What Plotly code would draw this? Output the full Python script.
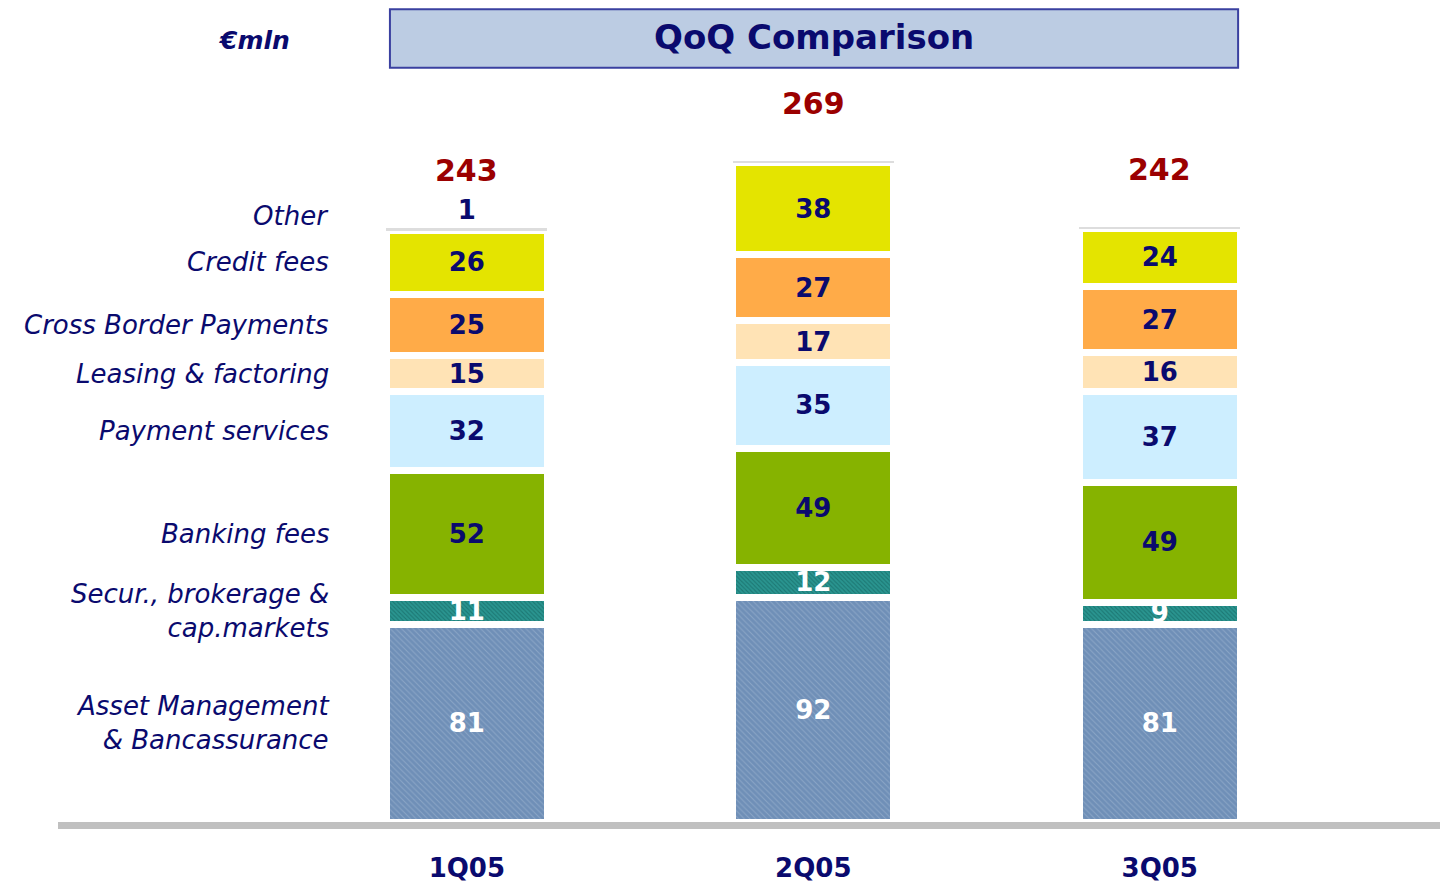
import plotly.graph_objects as go

# ---- data ----
quarters = ["1Q05", "2Q05", "3Q05"]
series_names = [
    "Asset Management<br>& Bancassurance",
    "Secur., brokerage &<br>cap.markets",
    "Banking fees",
    "Payment services",
    "Leasing & factoring",
    "Cross Border Payments",
    "Credit fees",
    "Other",
]
asset_mgmt = [81, 92, 81]
securities = [11, 12, 9]
banking_fees = [52, 49, 49]
payment_services = [32, 35, 37]
leasing_factoring = [15, 17, 16]
cross_border = [25, 27, 27]
credit_fees = [26, 38, 24]
other = [1, 0.5, 0.5]
other_labels = ["1", "", ""]
totals = [243, 269, 242]

series_values = [asset_mgmt, securities, banking_fees, payment_services,
                 leasing_factoring, cross_border, credit_fees, other]

# ---- styling ----
NAVY = "#0A0A6E"
FONT = "DejaVu Sans"
PX_PER_UNIT = 2.45
PLOT_H = 816
colors = ["#6F8FB7", "#238C87", "#86B300", "#CDEEFF", "#FFE3B5", "#FFAB48", "#E4E400", "#DDDDDD"]
text_colors = ["white", "white", NAVY, NAVY, NAVY, NAVY, NAVY, NAVY]
patterns = [
    dict(shape="\\", fgcolor="#A7BCD6", bgcolor="#6F8FB7", size=4, solidity=0.25),
    dict(shape="\\", fgcolor="#0F5956", bgcolor="#2A9590", size=3, solidity=0.35),
] + [None] * 6

x_pos = [0, 1, 2]

fig = go.Figure()
for i, (name, vals) in enumerate(zip(series_names, series_values)):
    is_other = i == len(series_names) - 1
    marker = dict(color=colors[i],
                  line=dict(color="white", width=0 if is_other else 7))
    if patterns[i] is not None:
        marker["pattern"] = patterns[i]
    fig.add_trace(go.Bar(
        x=x_pos, y=vals, name=name.replace("<br>", " "),
        width=0.465,
        marker=marker,
        text=other_labels if is_other else [str(v) for v in vals],
        textposition="outside" if is_other else "inside",
        insidetextanchor="middle",
        textangle=0,
        constraintext="none",
        textfont=dict(family=FONT, size=26, color=text_colors[i], weight="bold"),
        cliponaxis=False,
        hoverinfo="skip",
    ))

# totals above bars
for xi, t in zip(x_pos, totals):
    stack_top = sum(s[xi] for s in series_values)
    fig.add_annotation(x=xi, y=stack_top, xref="x", yref="y", text=f"<b>{t}</b>",
                       showarrow=False, yanchor="bottom", yshift=38,
                       font=dict(family=FONT, size=30, color="#9B0000"))

# series labels on the left, at the 1Q05 segment midpoints (nudged apart if crowded)
mids, halves = [], []
cum = 0
for name, vals in zip(series_names, series_values):
    mids.append(cum + vals[0] / 2)
    cum += vals[0]
    halves.append(16 * (name.count("<br>") + 1))
for i in range(1, len(mids)):
    need = (halves[i] + halves[i - 1] + 14) / PX_PER_UNIT
    if mids[i] - mids[i - 1] < need:
        mids[i] = mids[i - 1] + need
for name, m in zip(series_names, mids):
    fig.add_annotation(x=0.1964, y=m, xref="paper", yref="y",
                       text=f"<i>{name}</i>", showarrow=False,
                       xanchor="right", yanchor="middle", align="right",
                       font=dict(family=FONT, size=26, color=NAVY))

# title box
fig.add_shape(type="rect", xref="paper", yref="paper",
              x0=0.2388, x1=0.849, y0=0.9265, y1=0.9985,
              fillcolor="#BCCCE3", line=dict(color="#3A40A0", width=2))
fig.add_annotation(x=0.5439, y=0.9645, xref="paper", yref="paper",
                   xanchor="center", yanchor="middle",
                   text="<b>QoQ Comparison</b>", showarrow=False,
                   font=dict(family=FONT, size=34, color=NAVY))
fig.add_annotation(x=0.141, y=0.9596, xref="paper", yref="paper",
                   xanchor="center", yanchor="middle",
                   text="<b><i>€mln</i></b>", showarrow=False,
                   font=dict(family=FONT, size=25, color=NAVY))

fig.update_layout(
    width=1440, height=875,
    margin=dict(l=50, r=0, t=0, b=59),
    barmode="stack",
    showlegend=False,
    plot_bgcolor="white", paper_bgcolor="white",
    xaxis=dict(range=[-1.180, 2.832], tickvals=x_pos, ticktext=quarters,
               showgrid=False, zeroline=False,
               showline=True, linecolor="#C0C0C0", linewidth=7,
               ticks="outside", ticklen=17, tickcolor="rgba(0,0,0,0)",
               tickfont=dict(family=FONT, size=26, color=NAVY, weight="bold")),
    yaxis=dict(range=[0, PLOT_H / PX_PER_UNIT], visible=False,
               showgrid=False, zeroline=False),
)

fig.write_html("out.html")
